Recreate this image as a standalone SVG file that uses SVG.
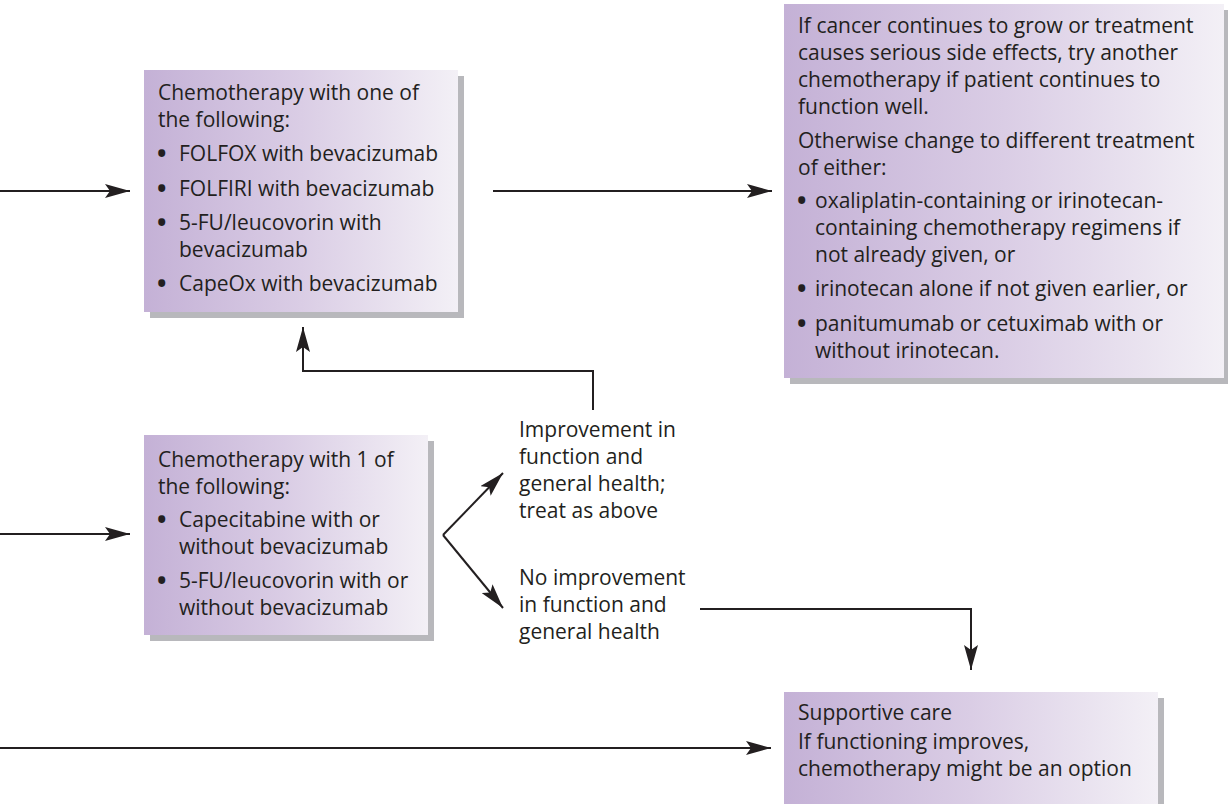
<svg xmlns="http://www.w3.org/2000/svg" width="1228" height="804" viewBox="0 0 1228 804">
  <defs>
    <linearGradient id="boxFill" x1="0" y1="0" x2="1" y2="0">
      <stop offset="0" stop-color="#c4b1d6"/>
      <stop offset="0.5" stop-color="#dacde5"/>
      <stop offset="1" stop-color="#f3f0f6"/>
    </linearGradient>
    <marker id="arrow" markerUnits="userSpaceOnUse" viewBox="0 0 25 14" refX="25" refY="7" markerWidth="25" markerHeight="14" orient="auto">
      <path d="M0,0 L25,7 L0,14 L5,7 z" fill="#231f20"/>
    </marker>
  </defs>
  <style>
    .shadow { fill: #b8b8bc; }
    .box { fill: url(#boxFill); }
    .txt { font-family: "Open Sans", "DejaVu Sans", sans-serif; font-size: 21px; fill: #231f20; }
    .dot { font-size: 25px; font-weight: bold; }
    .conn { fill: none; stroke: #231f20; stroke-width: 2; }
  </style>
  <rect width="1228" height="804" fill="#ffffff"/>

  <g id="first-line">
    <rect class="shadow" x="150" y="76" width="314" height="242"/>
    <rect class="box" x="144" y="70" width="314" height="242"/>
    <text class="txt">
      <tspan x="158" y="100">Chemotherapy with one of</tspan>
      <tspan x="158" y="127">the following:</tspan>
      <tspan class="dot" x="157" y="162">•</tspan><tspan x="179" y="161">FOLFOX with bevacizumab</tspan>
      <tspan class="dot" x="157" y="197">•</tspan><tspan x="179" y="196">FOLFIRI with bevacizumab</tspan>
      <tspan class="dot" x="157" y="231">•</tspan><tspan x="179" y="230">5-FU/leucovorin with</tspan>
      <tspan x="179" y="257">bevacizumab</tspan>
      <tspan class="dot" x="157" y="292">•</tspan><tspan x="179" y="291">CapeOx with bevacizumab</tspan>
    </text>
  </g>

  <g id="second-line">
    <rect class="shadow" x="790" y="10" width="438" height="374"/>
    <rect class="box" x="784" y="4" width="440" height="374"/>
    <text class="txt">
      <tspan x="798" y="33">If cancer continues to grow or treatment</tspan>
      <tspan x="798" y="60">causes serious side effects, try another</tspan>
      <tspan x="798" y="87">chemotherapy if patient continues to</tspan>
      <tspan x="798" y="114">function well.</tspan>
      <tspan x="798" y="148">Otherwise change to different treatment</tspan>
      <tspan x="798" y="175">of either:</tspan>
      <tspan class="dot" x="797" y="209">•</tspan><tspan x="815" y="208">oxaliplatin-containing or irinotecan-</tspan>
      <tspan x="815" y="235">containing chemotherapy regimens if</tspan>
      <tspan x="815" y="262">not already given, or</tspan>
      <tspan class="dot" x="797" y="297">•</tspan><tspan x="815" y="296">irinotecan alone if not given earlier, or</tspan>
      <tspan class="dot" x="797" y="332">•</tspan><tspan x="815" y="331">panitumumab or cetuximab with or</tspan>
      <tspan x="815" y="358">without irinotecan.</tspan>
    </text>
  </g>

  <g id="reduced-function">
    <rect class="shadow" x="150" y="441" width="284" height="200"/>
    <rect class="box" x="144" y="435" width="284" height="200"/>
    <text class="txt">
      <tspan x="158" y="467">Chemotherapy with 1 of</tspan>
      <tspan x="158" y="494">the following:</tspan>
      <tspan class="dot" x="157" y="528">•</tspan><tspan x="179" y="527">Capecitabine with or</tspan>
      <tspan x="179" y="554">without bevacizumab</tspan>
      <tspan class="dot" x="157" y="589">•</tspan><tspan x="179" y="588">5-FU/leucovorin with or</tspan>
      <tspan x="179" y="615">without bevacizumab</tspan>
    </text>
  </g>

  <g id="improvement">
    <text class="txt">
      <tspan x="519" y="437">Improvement in</tspan>
      <tspan x="519" y="464">function and</tspan>
      <tspan x="519" y="491">general health;</tspan>
      <tspan x="519" y="518">treat as above</tspan>
    </text>
  </g>

  <g id="no-improvement">
    <text class="txt">
      <tspan x="519" y="585">No improvement</tspan>
      <tspan x="519" y="612">in function and</tspan>
      <tspan x="519" y="639">general health</tspan>
    </text>
  </g>

  <g id="supportive-care">
    <rect class="shadow" x="790" y="698" width="374" height="112"/>
    <rect class="box" x="784" y="692" width="374" height="112"/>
    <text class="txt">
      <tspan x="798" y="720">Supportive care</tspan>
      <tspan x="798" y="749">If functioning improves,</tspan>
      <tspan x="798" y="776">chemotherapy might be an option</tspan>
    </text>
  </g>

  <g id="connectors">
    <path class="conn" d="M0,191 H130" marker-end="url(#arrow)"/>
    <path class="conn" d="M493,191 H772" marker-end="url(#arrow)"/>
    <path class="conn" d="M0,534 H130" marker-end="url(#arrow)"/>
    <path class="conn" d="M0,748 H771" marker-end="url(#arrow)"/>
    <path class="conn" d="M593,410 V371 H303 V327" marker-end="url(#arrow)"/>
    <path class="conn" d="M443,535 L503,473" marker-end="url(#arrow)"/>
    <path class="conn" d="M443,535 L503,608" marker-end="url(#arrow)"/>
    <path class="conn" d="M700,609 H971 V670" marker-end="url(#arrow)"/>
  </g>
</svg>
